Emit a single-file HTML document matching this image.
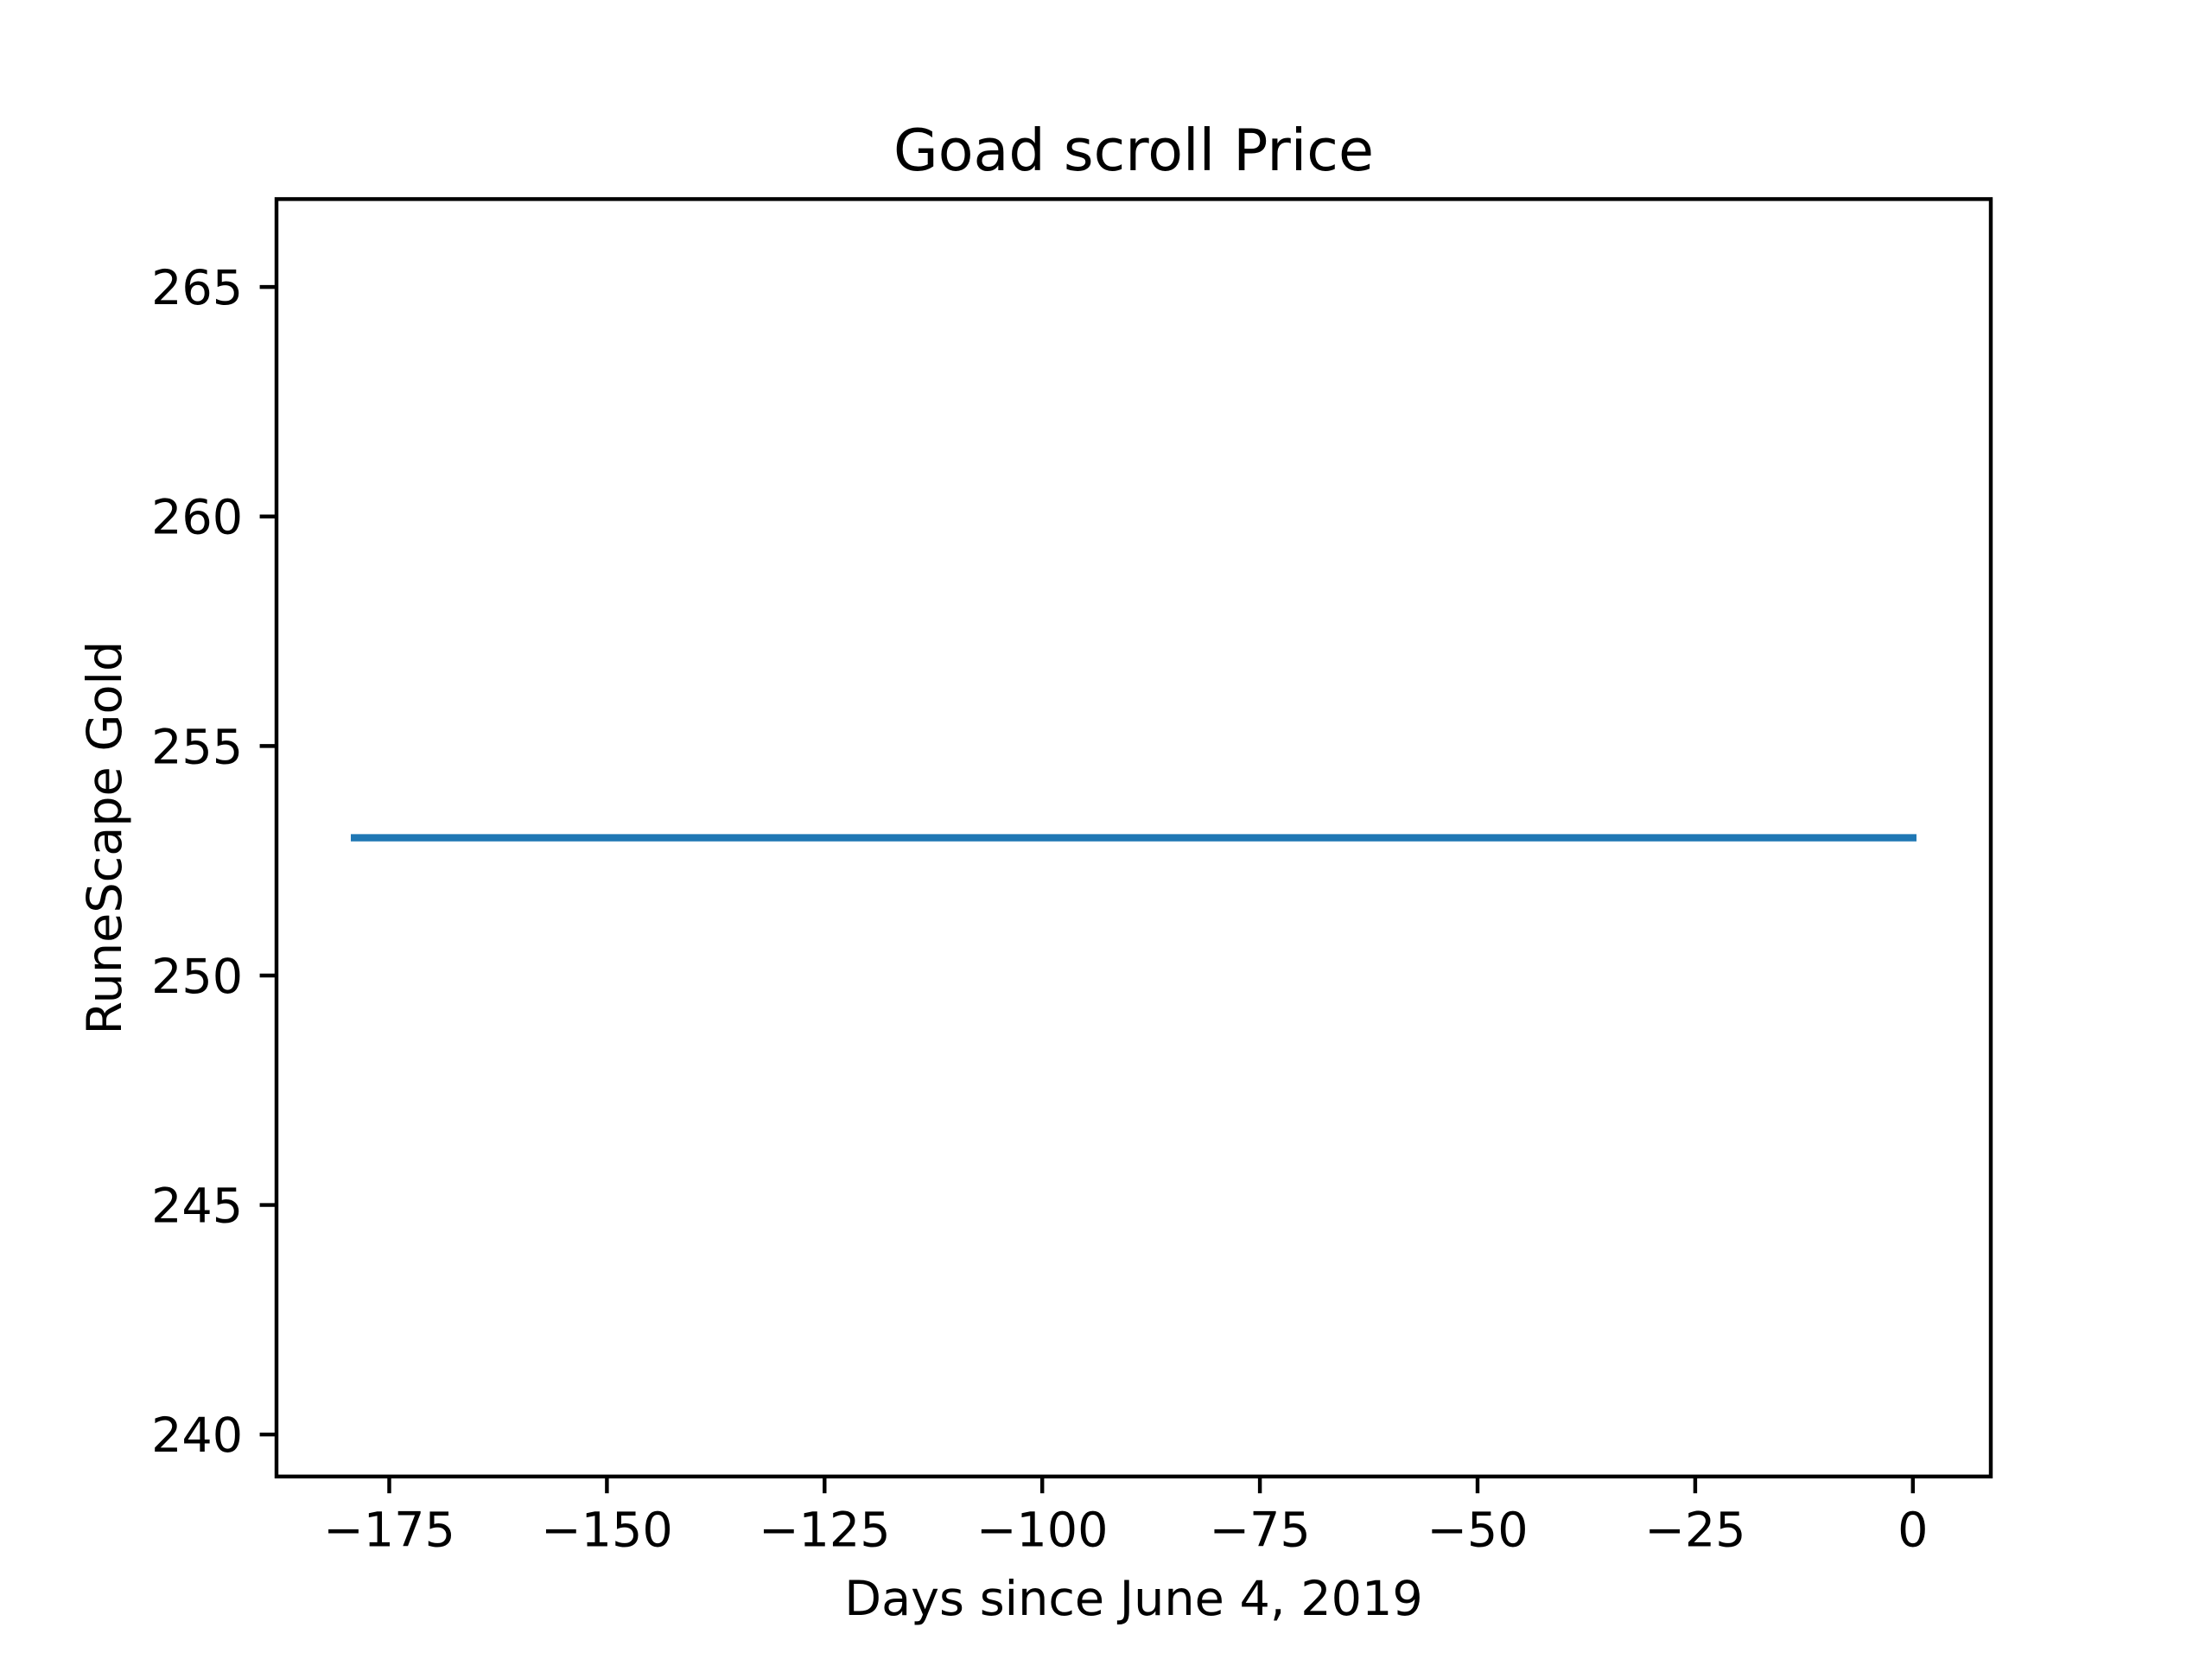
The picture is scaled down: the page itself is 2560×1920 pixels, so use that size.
<!DOCTYPE html>
<html><head><meta charset="utf-8"><style>
html,body{margin:0;padding:0;background:#fff;}
svg{display:block;font-family:"DejaVu Sans","Liberation Sans",sans-serif;}
</style></head><body>
<svg id="chart" width="2560" height="1920" viewBox="0 0 2560 1920" xmlns="http://www.w3.org/2000/svg">
<rect width="2560" height="1920" fill="#fff"/>
<g id="plot"></g>
</svg>
<script>
const days = [-179, -150, -120, -90, -60, -30, 0];
const prices = [253, 253, 253, 253, 253, 253, 253];
const xTicks = [-175, -150, -125, -100, -75, -50, -25, 0];
const yTicks = [240, 245, 250, 255, 260, 265];

const L = 320, R = 2304, T = 230.4, B = 1708.8;
const xMin = -187.95, xMax = 8.95, yMin = 239.085, yMax = 266.915;
const sx = v => L + (v - xMin) / (xMax - xMin) * (R - L);
const sy = v => B - (v - yMin) / (yMax - yMin) * (B - T);
const NS = 'http://www.w3.org/2000/svg';
const g = document.getElementById('plot');
function mk(tag, attrs, parent) {
  const e = document.createElementNS(NS, tag);
  for (const k in attrs) e.setAttribute(k, attrs[k]);
  (parent || g).appendChild(e);
  return e;
}
const pts = days.map((d, i) => sx(d).toFixed(2) + ',' + sy(prices[i]).toFixed(2)).join(' ');
const line = mk('polyline', {points: pts, fill: 'none', stroke: '#1f77b4', 'stroke-width': 8.33, 'stroke-linecap': 'square'});


const frame = mk('rect', {x: L, y: T, width: R - L, height: B - T, fill: 'none', stroke: '#000', 'stroke-width': 4.44, 'stroke-linecap': 'square'});


xTicks.forEach(t => {
  const x = sx(t);
  const tk = mk('line', {x1: x, x2: x, y1: B, y2: B + 19.4, stroke: '#000', 'stroke-width': 4.44});
  
  
  const tx = mk('text', {x: x, y: B + 19.4 + 19.4 + 42, 'font-size': 55.6, 'text-anchor': 'middle', fill: '#000'});
  tx.textContent = t < 0 ? '\u2212' + Math.abs(t) : String(t);
  
  
});
yTicks.forEach(t => {
  const y = sy(t);
  const tk = mk('line', {x1: L - 19.4, x2: L, y1: y, y2: y, stroke: '#000', 'stroke-width': 4.44});
  
  
  const tx = mk('text', {x: L - 19.4 - 19.4, y: y + 20, 'font-size': 55.6, 'text-anchor': 'end', fill: '#000'});
  tx.textContent = String(t);
  
  
});
const title = mk('text', {x: (L + R) / 2, y: 197, 'font-size': 66.7, 'text-anchor': 'middle', fill: '#000'});
title.textContent = 'Goad scroll Price';


const xl = mk('text', {x: (L + R) / 2, y: 1869, 'font-size': 55.6, 'text-anchor': 'middle', fill: '#000'});
xl.textContent = 'Days since June 4, 2019';


const yl = mk('text', {x: 0, y: 0, 'font-size': 55.6, 'text-anchor': 'middle', fill: '#000', transform: 'translate(140,' + ((T + B) / 2) + ') rotate(-90)'});
yl.textContent = 'RuneScape Gold';


</script>
</body></html>
